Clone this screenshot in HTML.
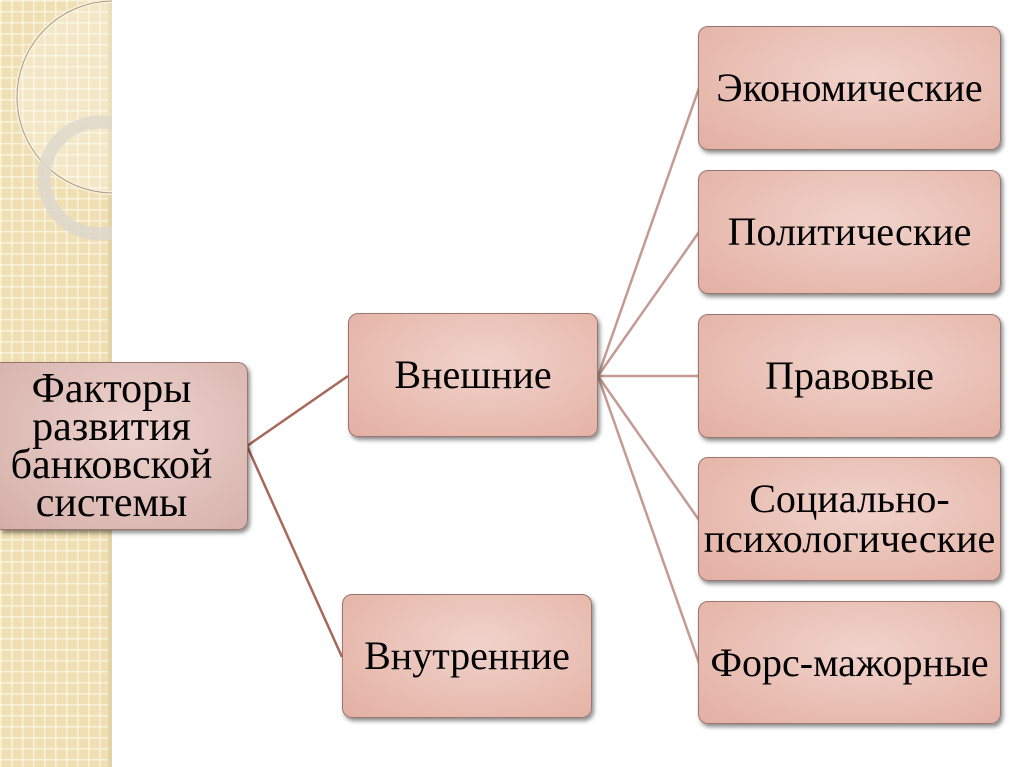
<!DOCTYPE html>
<html><head><meta charset="utf-8"><style>
body{margin:0;width:1024px;height:767px;overflow:hidden;background:#fff;position:relative;font-family:"Liberation Serif","DejaVu Serif",serif;}
.strip{position:absolute;left:0;top:0;width:112px;height:767px;background-color:#efdfb2;
background-image:linear-gradient(rgba(255,255,255,.55) 1.5px,transparent 1.5px),linear-gradient(90deg,rgba(255,255,255,.55) 1.5px,transparent 1.5px);background-size:11px 11px;}
.edge{position:absolute;left:108px;top:0;width:4px;height:767px;background:#e4d3a8;}
.b{position:absolute;box-sizing:border-box;border:1.5px solid #9a7670;border-radius:10px;
background:radial-gradient(ellipse at 55% 40%,#f0d3cb 0%,#e7b8ac 75%,#e2afa3 100%);
box-shadow:2px 3px 4px rgba(0,0,0,.45);display:flex;align-items:center;justify-content:center;text-align:center;font-size:40px;line-height:40px;color:#000;font-family:"Liberation Serif","DejaVu Serif",serif;}
.m{background:radial-gradient(ellipse at 55% 40%,#edd2cd 0%,#dab6b0 80%,#d4ada7 100%);}
</style></head><body>
<div class="strip"></div><div class="edge"></div>
<svg style="position:absolute;left:0;top:0" width="112" height="767">
<circle cx="113" cy="97" r="96" fill="rgba(255,255,255,.25)" stroke="#f7f0dc" stroke-width="4"/>
<circle cx="113" cy="97" r="96" fill="none" stroke="#a99c80" stroke-width="1"/>
<circle cx="100" cy="178" r="56" fill="none" stroke="#ddd8cc" stroke-width="13" opacity=".85"/>
</svg>
<svg style="position:absolute;left:0;top:0" width="1024" height="767">
<g stroke="#a8685a" stroke-width="2.5" fill="none">
<line x1="247" y1="446" x2="348" y2="376"/>
<line x1="247" y1="446" x2="342" y2="657"/>
</g>
<g stroke="#c49a92" stroke-width="2.5" fill="none">
<line x1="598" y1="376" x2="699" y2="88"/>
<line x1="598" y1="376" x2="699" y2="232"/>
<line x1="598" y1="376" x2="699" y2="376"/>
<line x1="598" y1="376" x2="699" y2="520"/>
<line x1="598" y1="376" x2="699" y2="663"/>
</g>
</svg>
<div class="b m" style="left:0;top:362px;width:248px;height:168px;border-left:none;border-radius:0 10px 10px 0;font-size:42px;line-height:38px;padding-right:24px">Факторы<br>развития<br>банковской<br>системы</div>
<div class="b" style="left:348px;top:313px;width:250px;height:124px">Внешние</div>
<div class="b" style="left:342px;top:594px;width:250px;height:124px">Внутренние</div>
<div class="b" style="left:698px;top:26px;width:303px;height:124px">Экономические</div>
<div class="b" style="left:698px;top:170px;width:303px;height:124px">Политические</div>
<div class="b" style="left:698px;top:314px;width:303px;height:124px">Правовые</div>
<div class="b" style="left:698px;top:457px;width:303px;height:124px">Социально-<br>психологические</div>
<div class="b" style="left:698px;top:601px;width:303px;height:123px">Форс-мажорные</div>
</body></html>
